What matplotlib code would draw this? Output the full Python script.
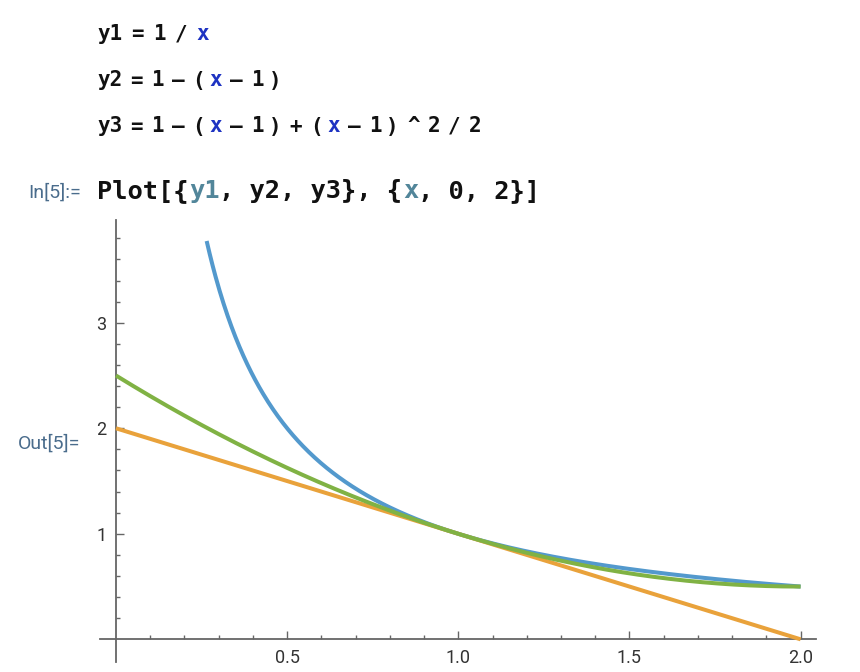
import numpy as np
import matplotlib
matplotlib.use('Agg')
import matplotlib.pyplot as plt

W, H = 860, 672

# funciones del cuaderno (y1, y2, y3) y rango de Plot
def y1(x):
    return 1 / x

def y2(x):
    return 1 - (x - 1)

def y3(x):
    return 1 - (x - 1) + (x - 1) ** 2 / 2

xMin, xMax = 0, 2
yCorte = 3.775  # donde Mathematica recorta 1/x

xMayores = [0.5, 1.0, 1.5, 2.0]
xMenores = [0.1, 0.2, 0.3, 0.4, 0.6, 0.7, 0.8, 0.9, 1.1, 1.2, 1.3, 1.4, 1.6, 1.7, 1.8, 1.9]
yMayores = [1, 2, 3]
yMenores = [0.2, 0.4, 0.6, 0.8, 1.2, 1.4, 1.6, 1.8, 2.2, 2.4, 2.6, 2.8, 3.2, 3.4, 3.6, 3.8]
xEtiquetas = ['0.5', '1.0', '1.5', '2.0']
yEtiquetas = ['1', '2', '3']

azul = '#5399CD'
naranja = '#E9A23B'
verde = '#80B244'
gris = '#666666'
azulVar = '#1E33C2'
tealVar = '#52869A'
azulEtiqueta = '#4A6C8C'

fig = plt.figure(figsize=(W / 100, H / 100), dpi=100)

# AXES
ax = fig.add_axes([100 / W, 1 - 662 / H, (816 - 100) / W, (662 - 220) / H])
ax.set_xlim(-0.0467, 2.045)
ax.set_ylim(-0.215, 3.974)

x = np.linspace(xMin, xMax, 600)
xAzul = np.linspace(1 / yCorte, xMax, 600)
ax.plot(xAzul, y1(xAzul), color=azul, lw=2.9, solid_capstyle='butt', zorder=3)
ax.plot(x, y2(x), color=naranja, lw=2.9, solid_capstyle='butt', zorder=3)
ax.plot(x, y3(x), color=verde, lw=2.9, solid_capstyle='butt', zorder=4)

for lado in ['top', 'right']:
    ax.spines[lado].set_visible(False)
for lado in ['left', 'bottom']:
    ax.spines[lado].set_position(('data', 0))
    ax.spines[lado].set_color(gris)
    ax.spines[lado].set_linewidth(1.3)

ax.set_xticks(xMayores)
ax.set_xticklabels(xEtiquetas)
ax.set_xticks(xMenores, minor=True)
ax.set_yticks(yMayores)
ax.set_yticklabels(yEtiquetas)
ax.set_yticks(yMenores, minor=True)
ax.tick_params(which='major', direction='in', length=5.5, width=1.0, color=gris,
               labelsize=13, labelcolor='#333333', pad=7)
ax.tick_params(which='minor', direction='in', length=3.2, width=1.0, color=gris)
for t in ax.get_xticklabels() + ax.get_yticklabels():
    t.set_family('Roboto')
ax.patch.set_visible(False)

# TEXTO DEL CUADERNO
renderer = fig.canvas.get_renderer()

def escribirTokens(x0, base, tokens, size, gap):
    xp = x0
    previo = ''
    for s, c in tokens:
        if previo == '(' or s == ')':
            xp -= 3
        t = fig.text(xp / W, 1 - base / H, s, color=c, fontsize=size,
                     family='DejaVu Sans Mono', weight='bold', va='baseline', ha='left')
        bb = t.get_window_extent(renderer)
        xp = bb.x1 + gap
        previo = s

n = '#111111'
linea1 = [('y1', n), ('=', n), ('1', n), ('/', n), ('x', azulVar)]
linea2 = [('y2', n), ('=', n), ('1', n), ('–', n), ('(', n), ('x', azulVar), ('–', n), ('1', n), (')', n)]
linea3 = [('y3', n), ('=', n), ('1', n), ('–', n), ('(', n), ('x', azulVar), ('–', n), ('1', n), (')', n),
          ('+', n), ('(', n), ('x', azulVar), ('–', n), ('1', n), (')', n), ('^', n), ('2', n), ('/', n), ('2', n)]
escribirTokens(97, 40, linea1, 15, 9)
escribirTokens(97, 86.5, linea2, 15, 8)
escribirTokens(97, 132.5, linea3, 15, 8)

# linea Plot, monoespaciada
tamPlot = 18.3
avance = 0.6021 * tamPlot * 100 / 72
segmentos = [('Plot[{', n), ('y1', tealVar), (', y2, y3}, {', n), ('x', tealVar), (', 0, 2}]', n)]
i = 0
for s, c in segmentos:
    fig.text((97 + i * avance) / W, 1 - 198 / H, s, color=c, fontsize=tamPlot,
             family='DejaVu Sans Mono', weight='bold', va='baseline', ha='left')
    i += len(s)

fig.text(28 / W, 1 - 198 / H, 'In[5]:=', color=azulEtiqueta, fontsize=14,
         family='Roboto', va='baseline', ha='left')
fig.text(18 / W, 1 - 449 / H, 'Out[5]=', color=azulEtiqueta, fontsize=14,
         family='Roboto', va='baseline', ha='left')

fig.savefig('out.png', dpi=100, facecolor='white')
